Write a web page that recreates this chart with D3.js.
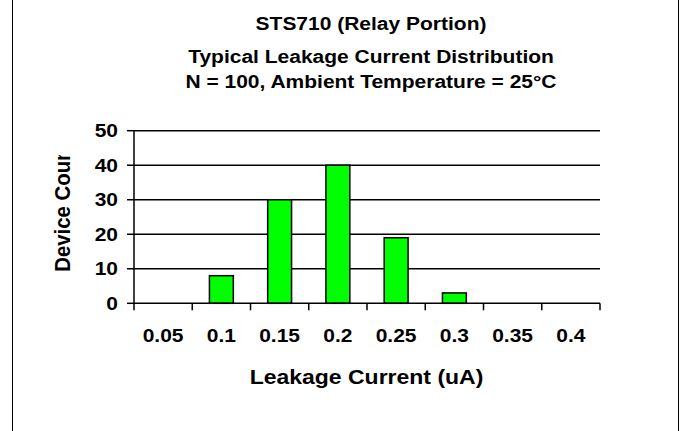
<meta charset="utf-8">
<html>
<head>
    <script src="https://d3js.org/d3.v7.min.js"></script>
    <style>
        body { margin: 0; background: #fff; }
        text { font-family: "Liberation Sans", Arial, sans-serif; font-weight: bold; fill: #000; }
    </style>
</head>
<body>
    <div id="chart"></div>
    <script>
        // data
        const categories = ["0.05", "0.1", "0.15", "0.2", "0.25", "0.3", "0.35", "0.4"];
        const counts = [0, 8, 30, 40, 19, 3, 0, 0];
        const yTicks = [0, 10, 20, 30, 40, 50];
        const titleLines = ["STS710 (Relay Portion)", "Typical Leakage Current Distribution", "N = 100, Ambient Temperature = 25°C"];

        const W = 685, H = 431;
        const plot = { left: 134, right: 600, top: 130.7, bottom: 303.3 };
        const squash = 0.885; // text in the original is slightly flattened

        const svg = d3.select("#chart").append("svg")
            .attr("width", W).attr("height", H);

        // frame lines at left and right
        svg.append("line").attr("x1", 12.5).attr("x2", 12.5).attr("y1", 0).attr("y2", H)
            .attr("stroke", "#000").attr("stroke-width", 1);
        svg.append("line").attr("x1", 678.5).attr("x2", 678.5).attr("y1", 0).attr("y2", H)
            .attr("stroke", "#000").attr("stroke-width", 1);

        const x = d3.scaleBand().domain(categories).range([plot.left, plot.right]).paddingInner(0).paddingOuter(0);
        const y = d3.scaleLinear().domain([0, 50]).range([plot.bottom, plot.top]);

        // helper for flattened text
        function label(parent, tx, ty, str, size, anchor) {
            return parent.append("text")
                .attr("transform", `translate(${tx},${ty}) scale(1,${squash})`)
                .attr("text-anchor", anchor || "middle")
                .style("font-size", size + "px")
                .text(str);
        }

        // titles
        const titleBase = [30, 63.3, 88.3];
        titleLines.forEach((t, i) => label(svg, 371, titleBase[i], t, 21));

        // gridlines
        svg.append("g").selectAll("line").data(yTicks.filter(d => d > 0)).enter().append("line")
            .attr("x1", plot.left).attr("x2", plot.right)
            .attr("y1", d => y(d)).attr("y2", d => y(d))
            .attr("stroke", "#000").attr("stroke-width", 1.5);

        // bars
        const bw = x.bandwidth() * 0.41;
        svg.append("g").selectAll("rect").data(categories.map((c, i) => ({ c: c, v: counts[i] })).filter(d => d.v > 0))
            .enter().append("rect")
            .attr("x", d => x(d.c) + x.bandwidth() / 2 - bw / 2)
            .attr("y", d => y(d.v))
            .attr("width", bw)
            .attr("height", d => y(0) - y(d.v))
            .attr("fill", "#00ff00")
            .attr("stroke", "#000").attr("stroke-width", 1.5);

        // y axis
        svg.append("line").attr("x1", plot.left).attr("x2", plot.left).attr("y1", plot.top).attr("y2", plot.bottom)
            .attr("stroke", "#000").attr("stroke-width", 1.5);
        const yAxisG = svg.append("g");
        yTicks.forEach(t => {
            yAxisG.append("line").attr("x1", plot.left - 7).attr("x2", plot.left)
                .attr("y1", y(t)).attr("y2", y(t)).attr("stroke", "#000").attr("stroke-width", 1.5);
            label(yAxisG, 118, y(t) + 6.6, t, 21, "end");
        });

        // x axis
        svg.append("line").attr("x1", plot.left).attr("x2", plot.right).attr("y1", plot.bottom).attr("y2", plot.bottom)
            .attr("stroke", "#000").attr("stroke-width", 1.5);
        const xAxisG = svg.append("g");
        const edges = categories.map(c => x(c)).concat([plot.right]);
        edges.forEach(e => {
            xAxisG.append("line").attr("x1", e).attr("x2", e)
                .attr("y1", plot.bottom).attr("y2", plot.bottom + 7)
                .attr("stroke", "#000").attr("stroke-width", 1.5);
        });
        categories.forEach(c => label(xAxisG, x(c) + x.bandwidth() / 2, 341.7, c, 21));

        // axis titles
        label(svg, 366.5, 384, "Leakage Current (uA)", 23);

        // y title, clipped at the top like the original
        svg.append("clipPath").attr("id", "yclip").append("rect")
            .attr("x", 0).attr("y", 155).attr("width", 120).attr("height", 200);
        svg.append("g").attr("clip-path", "url(#yclip)")
            .append("text")
            .attr("transform", `translate(69.5,271.7) scale(1,${squash}) rotate(-90)`)
            .attr("text-anchor", "start")
            .style("font-size", "23px")
            .text("Device Count");
    </script>
</body>
</html>
